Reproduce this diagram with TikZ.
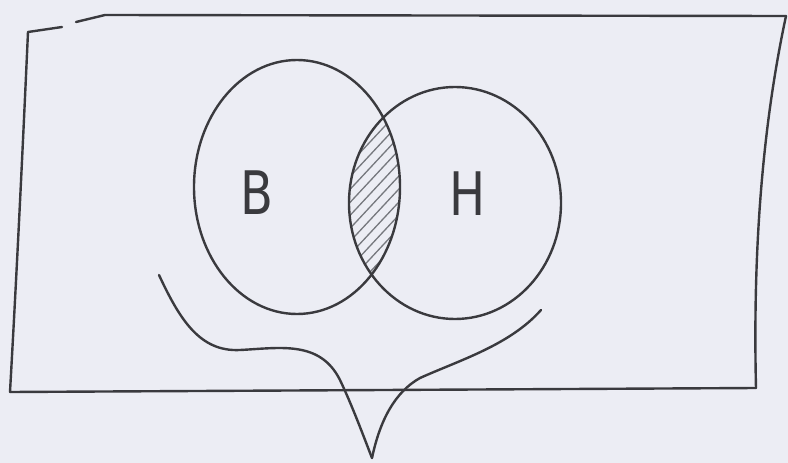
\documentclass[tikz,border=0pt]{standalone}
\usepackage{fontspec}
\setsansfont{DejaVu Sans}
\usetikzlibrary{shapes.geometric}
\begin{document}
\begin{tikzpicture}[x=1pt,y=-1pt,
  ink/.style={draw=inkc, line width=2.4pt, line join=round, line cap=round},
  hatch/.style={draw=hatchc, line width=1.3pt},
  lbl/.style={text=inkc, font=\sffamily\fontsize{60}{60}\selectfont, xscale=0.8}]
\definecolor{inkc}{RGB}{58,58,62}
\definecolor{hatchc}{RGB}{118,120,126}
\definecolor{paper}{RGB}{236,237,244}
\fill[paper] (0,0) rectangle (788,463);
\useasboundingbox (0,0) rectangle (788,463);
% frame
\coordinate (tl) at (28,32);
\coordinate (tr) at (786,16);
\coordinate (br) at (756,388);
\coordinate (bl) at (10,392);
\draw[ink] (tl) -- (62,27);
\draw[ink] (76,22) -- (105,15) -- (tr);
\draw[ink] (tr) .. controls (768,100) and (752,220) .. (br);
\draw[ink] (br) -- (bl);
\draw[ink] (bl) .. controls (18,250) and (24,120) .. (tl);
% hatched intersection
\begin{scope}
  \clip (297,187) ellipse [x radius=103, y radius=127];
  \clip (455,203) ellipse [x radius=106, y radius=116];
  \foreach \k in {0,...,30}{
    \draw[hatch] (300,{100+\k*13}) -- (440,{100+\k*13-150});
  }
\end{scope}
% circles
\node[ink, ellipse, minimum width=206pt, minimum height=254pt, inner sep=0pt] (B) at (297,187) {};
\node[ink, ellipse, minimum width=212pt, minimum height=232pt, inner sep=0pt] (H) at (455,203) {};
\node[lbl] (lb) at (257,193) {B};
\node[lbl] (lh) at (468,194) {H};
% brace-like curve
\coordinate (c1) at (159,275);
\coordinate (c2) at (541,310);
\coordinate (tip) at (372,458);
\draw[ink] (c1) .. controls (180,320) and (200,352) .. (240,350)
  .. controls (280,348) and (320,340) .. (340,380)
  .. controls (352,405) and (365,440) .. (tip);
\draw[ink] (c2) .. controls (510,345) and (460,360) .. (420,378)
  .. controls (395,392) and (380,420) .. (tip);
\end{tikzpicture}
\end{document}
